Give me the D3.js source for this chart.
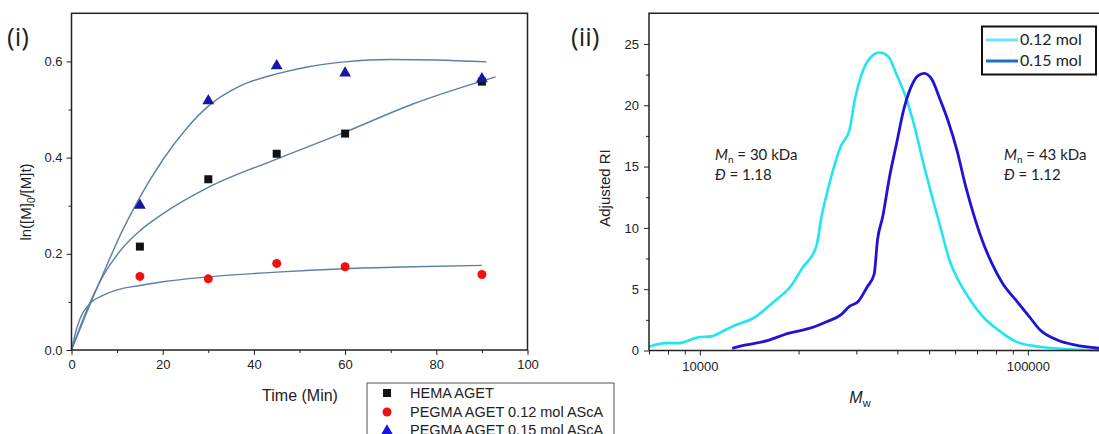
<!DOCTYPE html>
<html>
<head>
<meta charset="utf-8">
<script src="https://cdn.jsdelivr.net/npm/d3@7"></script>
<style>
  body { margin: 0; background: #fff; }
  svg { display: block; }
  .tick text { font-family: "Liberation Sans", Arial, sans-serif; font-size: 13px; fill: #222; }
  .domain { stroke: none; }
  .tick line { stroke: #222; }
</style>
</head>
<body>
<div id="chart"></div>
<script>
// ---- panel (i): kinetics data ----
var times = [15, 30, 45, 60, 90];
var hemaVals = [0.215, 0.355, 0.408, 0.45, 0.558];
var peg12Vals = [0.153, 0.148, 0.18, 0.173, 0.157];
var peg15Vals = [0.303, 0.52, 0.593, 0.578, 0.566];

// fitted curves
var fit15T = [0, 3, 7, 11, 15, 20, 25, 30, 37, 45, 52, 60, 70, 80, 91];
var fit15V = [0, 0.07, 0.16, 0.245, 0.318, 0.395, 0.458, 0.507, 0.549, 0.574, 0.589, 0.599, 0.604, 0.603, 0.599];
var fitHemaT = [0, 3, 7, 11, 15, 20, 30, 45, 60, 75, 93];
var fitHemaV = [0, 0.075, 0.155, 0.21, 0.248, 0.283, 0.338, 0.397, 0.453, 0.512, 0.568];
var fit12T = [0, 1, 2, 4, 7, 10, 15, 20, 30, 45, 60, 75, 90];
var fit12V = [0, 0.04, 0.068, 0.096, 0.114, 0.125, 0.134, 0.142, 0.152, 0.162, 0.169, 0.173, 0.176];

var legendLabels = ["HEMA AGET", "PEGMA AGET 0.12 mol AScA", "PEGMA AGET 0.15 mol AScA"];

// ---- panel (ii): GPC traces ----
var mw12 = [7000, 7860, 8670, 9336, 10000, 10819, 11943, 12856, 14540, 16845, 19060, 20500, 22650, 23500, 25000, 26900, 28600, 29700, 31200, 32700, 35300, 37500, 39800, 42400, 45100, 48000, 51000, 54400, 57600, 61300, 66800, 73700, 81300, 92000, 109000, 133000, 165000];
var ri12 = [0.3, 0.6, 0.6, 0.86, 1.1, 1.15, 1.67, 2.08, 2.63, 4.0, 5.35, 6.7, 8.5, 10.9, 13.9, 16.65, 18.0, 20.5, 22.6, 23.7, 24.3, 24.0, 22.5, 20.7, 18.3, 15.3, 12.6, 9.85, 7.4, 5.76, 4.1, 2.63, 1.67, 0.72, 0.3, 0.1, 0.03];
var mw15 = [12550, 13840, 16040, 18600, 21560, 24350, 26900, 28600, 30400, 32400, 33990, 34800, 36100, 37900, 39800, 41800, 43900, 46200, 48300, 51000, 53600, 57000, 60700, 64600, 68700, 73100, 77700, 83600, 92000, 101000, 109000, 123000, 139000, 165000];
var ri15 = [0.18, 0.45, 0.8, 1.4, 1.8, 2.35, 2.9, 3.6, 4.0, 5.2, 6.2, 9.0, 10.9, 14.2, 16.9, 19.6, 21.4, 22.4, 22.6, 22.1, 20.7, 18.8, 16.4, 13.4, 10.9, 8.76, 7.1, 5.5, 4.1, 2.76, 1.67, 0.86, 0.45, 0.18];
var gpcLabels = ["0.12 mol", "0.15 mol"];

var svg = d3.select("#chart").append("svg")
  .attr("width", 1099)
  .attr("height", 434);

// ================= panel (i) =================
var x1 = d3.scaleLinear().domain([0, 100]).range([71.5, 527.5]);
var y1 = d3.scaleLinear().domain([0, 0.7]).range([350, 13.3]);

var fitColor = "#5d7fa6";
var line1 = d3.line()
  .x(function(d) { return x1(d[0]); })
  .y(function(d) { return y1(d[1]); })
  .curve(d3.curveMonotoneX);

[[fit15T, fit15V], [fitHemaT, fitHemaV], [fit12T, fit12V]].forEach(function(f) {
  svg.append("path")
    .datum(d3.zip(f[0], f[1]))
    .attr("d", line1)
    .attr("fill", "none")
    .attr("stroke", fitColor)
    .attr("stroke-width", 1.4);
});

// markers
svg.selectAll(".sq").data(d3.zip(times, hemaVals)).enter().append("rect")
  .attr("x", function(d) { return x1(d[0]) - 4; })
  .attr("y", function(d) { return y1(d[1]) - 4; })
  .attr("width", 8).attr("height", 8)
  .attr("fill", "#111");
svg.selectAll(".ci").data(d3.zip(times, peg12Vals)).enter().append("circle")
  .attr("cx", function(d) { return x1(d[0]); })
  .attr("cy", function(d) { return y1(d[1]); })
  .attr("r", 4.5)
  .attr("fill", "#f01010");
var tri = d3.symbol().type(d3.symbolTriangle).size(60);
svg.selectAll(".tr").data(d3.zip(times, peg15Vals)).enter().append("path")
  .attr("d", tri)
  .attr("transform", function(d) { return "translate(" + x1(d[0]) + "," + (y1(d[1]) + 1) + ")"; })
  .attr("fill", "#1616a8");

// frame
svg.append("rect")
  .attr("x", 71.5).attr("y", 13.3)
  .attr("width", 456).attr("height", 336.7)
  .attr("fill", "none").attr("stroke", "#222").attr("stroke-width", 1.5);

// axes
svg.append("g")
  .attr("transform", "translate(0,350)")
  .call(d3.axisBottom(x1).tickValues([0, 20, 40, 60, 80, 100]).tickSize(5).tickPadding(5).tickFormat(d3.format("d")));
svg.append("g")
  .attr("transform", "translate(0,350)")
  .call(d3.axisBottom(x1).tickValues([10, 30, 50, 70, 90]).tickSize(3).tickFormat(""));
svg.append("g")
  .attr("transform", "translate(71.5,0)")
  .call(d3.axisLeft(y1).tickValues([0, 0.2, 0.4, 0.6]).tickSize(5).tickPadding(4).tickFormat(d3.format(".1f")));
svg.append("g")
  .attr("transform", "translate(71.5,0)")
  .call(d3.axisLeft(y1).tickValues([0.1, 0.3, 0.5]).tickSize(3).tickFormat(""));

svg.append("text")
  .attr("x", 300).attr("y", 401)
  .attr("text-anchor", "middle")
  .style("font-family", "Liberation Sans, Arial, sans-serif")
  .style("font-size", "16px").style("fill", "#222")
  .text("Time (Min)");

var ylab = svg.append("text")
  .attr("transform", "translate(31,202) rotate(-90)")
  .attr("text-anchor", "middle")
  .style("font-family", "Liberation Sans, Arial, sans-serif")
  .style("font-size", "15px").style("fill", "#222");
ylab.append("tspan").text("ln([M]");
ylab.append("tspan").attr("dy", 4).style("font-size", "10px").text("0");
ylab.append("tspan").attr("dy", -4).text("/[M]t)");

svg.append("text")
  .attr("x", 7).attr("y", 46)
  .style("font-family", "Open Sans, sans-serif")
  .style("font-size", "26px").style("fill", "#222")
  .text("(i)");

// legend (i)
var lg = svg.append("g");
lg.append("rect")
  .attr("x", 367).attr("y", 383)
  .attr("width", 247).attr("height", 70)
  .attr("fill", "#fff").attr("stroke", "#555").attr("stroke-width", 1);
var rowY = [393, 412, 430];
lg.append("rect").attr("x", 383).attr("y", rowY[0] - 4).attr("width", 8).attr("height", 8).attr("fill", "#111");
lg.append("circle").attr("cx", 387).attr("cy", rowY[1]).attr("r", 4.5).attr("fill", "#f01010");
lg.append("path").attr("d", tri).attr("transform", "translate(387," + (rowY[2] + 1) + ")").attr("fill", "#1616e0");
lg.selectAll(".lt").data(legendLabels).enter().append("text")
  .attr("x", 410)
  .attr("y", function(d, i) { return rowY[i] + 5; })
  .style("font-family", "Liberation Sans, Arial, sans-serif")
  .style("font-size", "14.5px").style("fill", "#222")
  .text(function(d) { return d; });

// ================= panel (ii) =================
var x2 = d3.scaleLog().domain([7000, 165000]).range([649, 1099.2]);
var y2 = d3.scaleLinear().domain([0, 27.5]).range([350.5, 13.3]);

var line2 = d3.line()
  .x(function(d) { return x2(d[0]); })
  .y(function(d) { return y2(d[1]); })
  .curve(d3.curveMonotoneX);

svg.append("path")
  .datum(d3.zip(mw12, ri12))
  .attr("d", line2)
  .attr("fill", "none")
  .attr("stroke", "#22e6ef")
  .attr("stroke-width", 2.6);
svg.append("path")
  .datum(d3.zip(mw15, ri15))
  .attr("d", line2)
  .attr("fill", "none")
  .attr("stroke", "#1f14d6")
  .attr("stroke-width", 2.8);

// frame (left, top, bottom)
svg.append("path")
  .attr("d", "M649,350.5 V13.3 H1099")
  .attr("fill", "none").attr("stroke", "#222").attr("stroke-width", 1.5);
svg.append("line")
  .attr("x1", 649).attr("x2", 1099).attr("y1", 350.5).attr("y2", 350.5)
  .attr("stroke", "#222").attr("stroke-width", 1.5);

svg.append("g")
  .attr("transform", "translate(0,350.5)")
  .call(d3.axisBottom(x2).tickValues([10000, 100000]).tickSize(5).tickPadding(6).tickFormat(d3.format("d")));
svg.append("g")
  .attr("transform", "translate(0,350.5)")
  .call(d3.axisBottom(x2).tickValues([7000, 8000, 9000, 20000, 30000, 40000, 50000, 60000, 70000, 80000, 90000]).tickSize(4).tickFormat(""));
svg.append("g")
  .attr("transform", "translate(649,0)")
  .call(d3.axisLeft(y2).tickValues([0, 5, 10, 15, 20, 25]).tickSize(5).tickPadding(5).tickFormat(d3.format("d")));
svg.append("g")
  .attr("transform", "translate(649,0)")
  .call(d3.axisLeft(y2).tickValues([2.5, 7.5, 12.5, 17.5, 22.5]).tickSize(3).tickFormat(""));

svg.append("text")
  .attr("transform", "translate(610,188) rotate(-90)")
  .attr("text-anchor", "middle")
  .style("font-family", "Liberation Sans, Arial, sans-serif")
  .style("font-size", "15px").style("fill", "#222")
  .text("Adjusted RI");

var xlab2 = svg.append("text")
  .attr("x", 860).attr("y", 403)
  .attr("text-anchor", "middle")
  .style("font-family", "Liberation Sans, Arial, sans-serif")
  .style("font-size", "16px").style("fill", "#222");
xlab2.append("tspan").style("font-style", "italic").text("M");
xlab2.append("tspan").attr("dy", 4).style("font-size", "11px").text("w");

svg.append("text")
  .attr("x", 571).attr("y", 46)
  .style("font-family", "Open Sans, sans-serif")
  .style("font-size", "26px").style("fill", "#222")
  .text("(ii)");

// annotations
function annot(x, mn, disp) {
  var t = svg.append("text")
    .attr("x", x).attr("y", 160)
    .style("font-family", "Lato, sans-serif")
    .style("font-size", "15px").style("fill", "#222");
  t.append("tspan").style("font-style", "italic").text("M");
  t.append("tspan").attr("dy", 3).style("font-size", "10px").text("n");
  t.append("tspan").attr("dy", -3).text(" = " + mn + " kDa");
  var t2 = svg.append("text")
    .attr("x", x).attr("y", 180)
    .style("font-family", "Lato, sans-serif")
    .style("font-size", "15px").style("fill", "#222");
  t2.append("tspan").style("font-style", "italic").text("Đ");
  t2.append("tspan").text(" = " + disp);
}
annot(715, 30, "1.18");
annot(1004, 43, "1.12");

// legend (ii)
svg.append("rect")
  .attr("x", 982).attr("y", 26.5)
  .attr("width", 114).attr("height", 48)
  .attr("fill", "#fff").attr("stroke", "#111").attr("stroke-width", 2);
var gpcColors = ["#6fe3f6", "#1d6fcc"];
gpcLabels.forEach(function(lbl, i) {
  var yy = 40 + i * 21;
  svg.append("line")
    .attr("x1", 986).attr("x2", 1018).attr("y1", yy).attr("y2", yy)
    .attr("stroke", gpcColors[i]).attr("stroke-width", 3);
  svg.append("text")
    .attr("x", 1020).attr("y", yy + 5)
    .style("font-family", "Lato, sans-serif")
    .style("font-size", "16px").style("fill", "#222")
    .text(lbl);
});
</script>
</body>
</html>
